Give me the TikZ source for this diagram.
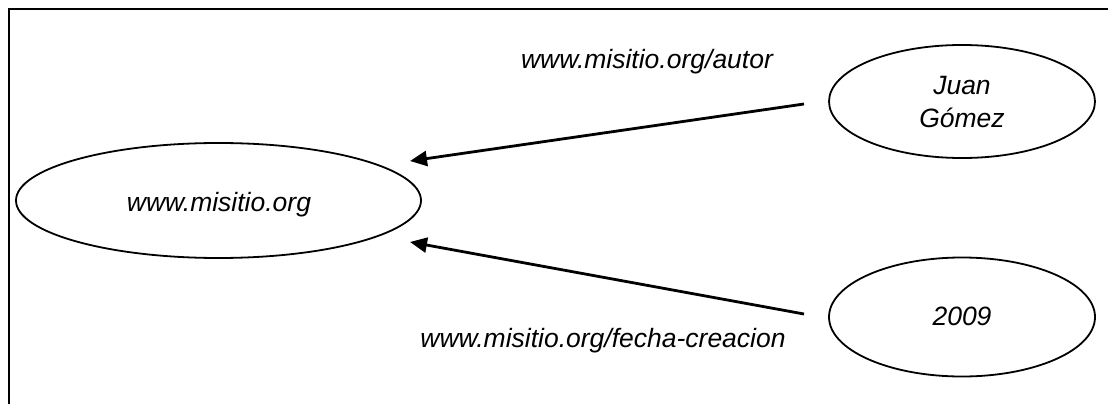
\documentclass[tikz,border=0pt]{standalone}
\usepackage{fontspec}
\setmainfont{Liberation Sans}
\usetikzlibrary{shapes.geometric,arrows.meta}
\tikzset{
  res/.style={draw, ellipse, line width=1.8pt, inner sep=0pt},
  lbl/.style={font=\fontsize{26.5}{31}\selectfont\itshape, inner sep=0pt, align=center},
  prop/.style={line width=2.8pt, -{Triangle[length=17pt,width=15pt]}},
}
\begin{document}
\begin{tikzpicture}[x=1pt,y=-1pt]
\useasboundingbox (0,0) rectangle (1108,404);
% frame (open at right and bottom)
\draw[line width=2.8pt] (9,404) -- (9,9) -- (1108,9);

% resources
\node[res, minimum width=405pt, minimum height=115pt] (site) at (218.5,200.5) {};
\node[lbl] (sitet) at (219,205) {www.misitio.org};
\node[res, minimum width=266pt, minimum height=113pt] (juan) at (962,101.5) {};
\node[lbl] (juant) at (962,102) {Juan\\[2pt]Gómez};
\node[res, minimum width=266pt, minimum height=119pt] (year) at (962,317) {};
\node[lbl] (yeart) at (962,316) {2009};

% connector end points
\coordinate (autorS) at (804,104);
\coordinate (autorE) at (410,161);
\coordinate (fechaS) at (804,314);
\coordinate (fechaE) at (410,242);
\draw[prop] (autorS) -- (autorE);
\draw[prop] (fechaS) -- (fechaE);

% predicate labels
\node[lbl] (autorL) at (647,62) {www.misitio.org/autor};
\node[lbl] (fechaL) at (603,341) {www.misitio.org/fecha-creacion};
\end{tikzpicture}
\end{document}
